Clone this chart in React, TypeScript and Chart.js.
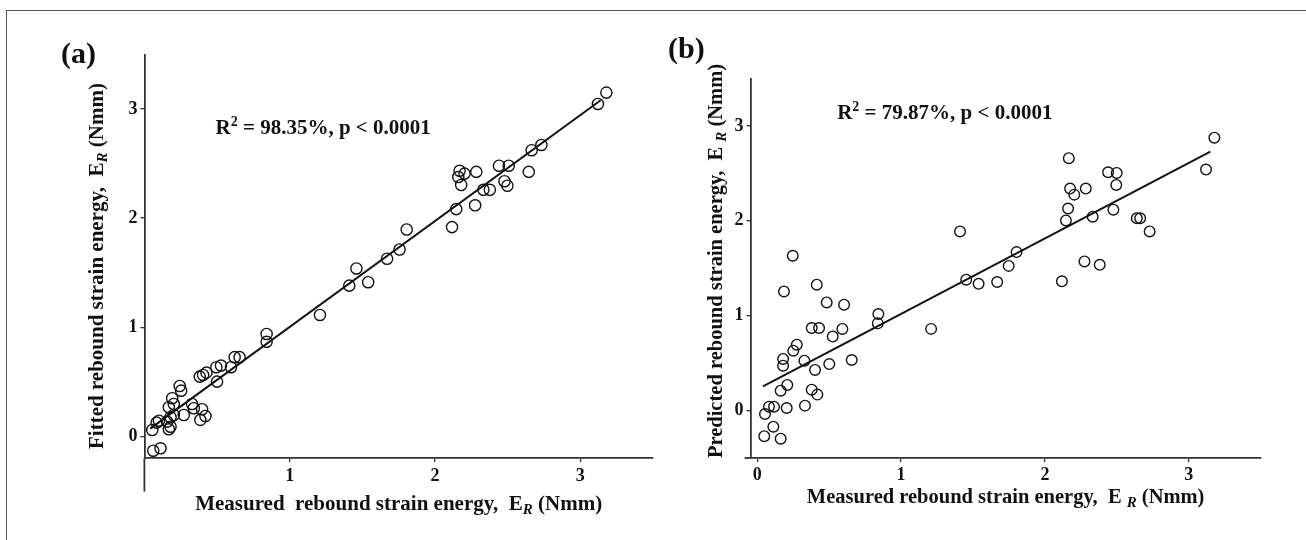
import React, { useEffect, useRef } from "react";
import { Chart, registerables } from "chart.js";

Chart.register(...registerables);

// ---------- data: panel (a) fitted vs measured ----------
const xA = [0.054, 0.061, 0.084, 0.100, 0.111, 0.157, 0.168, 0.168, 0.180, 0.180, 0.191, 0.202, 0.202, 0.243, 0.253, 0.271, 0.328, 0.340, 0.381, 0.385, 0.397, 0.404, 0.420, 0.427, 0.495, 0.500, 0.527, 0.596, 0.621, 0.655, 0.841, 0.841, 1.208, 1.410, 1.459, 1.540, 1.670, 1.756, 1.805, 2.117, 2.146, 2.160, 2.169, 2.180, 2.203, 2.276, 2.284, 2.333, 2.377, 2.440, 2.478, 2.498, 2.507, 2.645, 2.665, 2.732, 3.121, 3.179];
const yA = [0.058, -0.132, 0.125, 0.143, -0.110, 0.134, 0.266, 0.064, 0.174, 0.088, 0.349, 0.296, 0.195, 0.461, 0.418, 0.195, 0.296, 0.257, 0.547, 0.150, 0.248, 0.562, 0.186, 0.583, 0.633, 0.501, 0.648, 0.633, 0.725, 0.725, 0.938, 0.866, 1.112, 1.381, 1.538, 1.412, 1.627, 1.712, 1.895, 1.917, 2.082, 2.376, 2.433, 2.303, 2.407, 2.117, 2.423, 2.259, 2.259, 2.480, 2.338, 2.296, 2.480, 2.423, 2.622, 2.670, 3.046, 3.150];
const fitXA = [0.04, 3.14];
const fitYA = [0.07, 3.08];

// ---------- data: panel (b) predicted vs measured ----------
const xB = [0.049, 0.054, 0.082, 0.112, 0.117, 0.163, 0.163, 0.180, 0.180, 0.186, 0.205, 0.209, 0.247, 0.251, 0.275, 0.328, 0.332, 0.379, 0.379, 0.402, 0.414, 0.418, 0.430, 0.483, 0.501, 0.525, 0.592, 0.604, 0.657, 0.838, 0.842, 1.209, 1.410, 1.453, 1.539, 1.668, 1.748, 1.803, 2.118, 2.146, 2.161, 2.166, 2.175, 2.204, 2.275, 2.284, 2.332, 2.381, 2.439, 2.476, 2.496, 2.499, 2.639, 2.662, 2.728, 3.120, 3.178];
const yB = [-0.270, -0.036, 0.041, -0.170, 0.041, -0.296, 0.210, 0.544, 0.473, 1.256, 0.027, 0.270, 1.632, 0.631, 0.694, 0.526, 0.052, 0.870, 0.220, 0.428, 1.327, 0.168, 0.870, 1.140, 0.490, 0.780, 0.860, 1.116, 0.533, 0.919, 1.018, 0.861, 1.888, 1.380, 1.336, 1.355, 1.525, 1.670, 1.362, 2.004, 2.130, 2.660, 2.340, 2.276, 1.572, 2.340, 2.044, 1.536, 2.512, 2.117, 2.378, 2.505, 2.026, 2.026, 1.888, 2.540, 2.876];
const fitXB = [0.04, 3.15];
const fitYB = [0.255, 2.73];

// ---------- ticks ----------
const xTicksA = [1, 2, 3];
const yTicksA = [0, 1, 2, 3];
const xTicksB = [0, 1, 2, 3];
const yTicksB = [0, 1, 2, 3];

// ---------- texts ----------
const panelA = "(a)";
const panelB = "(b)";
const r2TextA = " = 98.35%, p < 0.0001";
const r2TextB = " = 79.87%, p < 0.0001";
const xTitleA = ["Measured  rebound strain energy,  E", "R", " (Nmm)"];
const xTitleB = ["Measured rebound strain energy,  E ", "R", " (Nmm)"];
const yTitleA = ["Fitted rebound strain energy,  E", "R", " (Nmm)"];
const yTitleB = ["Predicted rebound strain energy,  E ", "R", " (Nmm)"];

const FONT = "'Liberation Serif', 'Times New Roman', serif";
const INK = "#111111";
const AXIS = "#333333";

type Seg = { t: string; size: number; italic?: boolean; dy?: number };

function fontOf(size: number, italic?: boolean) {
  return `${italic ? "italic " : ""}bold ${size}px ${FONT}`;
}

function segsWidth(ctx: CanvasRenderingContext2D, segs: Seg[]) {
  let w = 0;
  for (const s of segs) {
    ctx.font = fontOf(s.size, s.italic);
    w += ctx.measureText(s.t).width;
  }
  return w;
}

function drawSegs(ctx: CanvasRenderingContext2D, segs: Seg[], x: number, y: number, align: "left" | "center") {
  const w = segsWidth(ctx, segs);
  let cx = align === "center" ? x - w / 2 : x;
  ctx.textAlign = "left";
  ctx.textBaseline = "alphabetic";
  for (const s of segs) {
    ctx.font = fontOf(s.size, s.italic);
    ctx.fillText(s.t, cx, y + (s.dy || 0));
    cx += ctx.measureText(s.t).width;
  }
}

function titleSegs(parts: string[], size: number): Seg[] {
  return [
    { t: parts[0], size },
    { t: parts[1], size: Math.round(size * 0.72), italic: true, dy: 4 },
    { t: parts[2], size },
  ];
}

const annotPlugin = {
  id: "annot",
  afterDraw(chart: any, _args: any, o: any) {
    const ctx: CanvasRenderingContext2D = chart.ctx;
    const ca = chart.chartArea;
    ctx.save();
    ctx.strokeStyle = AXIS;
    ctx.lineWidth = 1.8;
    if (o.yExtendTo) {
      ctx.beginPath();
      ctx.moveTo(ca.left, ca.bottom);
      ctx.lineTo(ca.left, o.yExtendTo);
      ctx.stroke();
    }
    if (o.xExtendLeft) {
      ctx.beginPath();
      ctx.moveTo(ca.left - o.xExtendLeft, ca.bottom);
      ctx.lineTo(ca.left, ca.bottom);
      ctx.stroke();
    }
    ctx.fillStyle = INK;
    drawSegs(ctx, [{ t: o.panel, size: 30 }], o.panelX, o.panelY, "left");
    drawSegs(
      ctx,
      [
        { t: "R", size: o.r2Size },
        { t: "2", size: 14, dy: -8 },
        { t: o.r2, size: o.r2Size },
      ],
      o.r2X,
      o.r2Y,
      "left"
    );
    drawSegs(ctx, titleSegs(o.xTitle, o.titleSize), (ca.left + ca.right) / 2, o.xTitleY, "center");
    ctx.translate(o.yTitleX, o.yTitleCY);
    ctx.rotate(-Math.PI / 2);
    drawSegs(ctx, titleSegs(o.yTitle, o.titleSize), 0, 0, "center");
    ctx.restore();
  },
};

type PanelParams = {
  xs: number[];
  ys: number[];
  fx: number[];
  fy: number[];
  xTicks: number[];
  yTicks: number[];
  xMin: number;
  xMax: number;
  yMin: number;
  yMax: number;
  yAxisWidth: number;
  xAxisHeight: number;
  padRight: number;
  padTop: number;
  pointR: number;
  annot: any;
};

function makeConfig(p: PanelParams): any {
  const tickFont = { family: FONT, size: 18, weight: "bold" as const };
  const grid = {
    display: true,
    drawOnChartArea: false,
    drawTicks: true,
    tickLength: 4,
    color: AXIS,
    lineWidth: 1.3,
  };
  const border = { display: true, color: AXIS, width: 1.8 };
  return {
    type: "scatter",
    data: {
      datasets: [
        {
          data: p.xs.map((x, i) => ({ x, y: p.ys[i] })),
          pointStyle: "circle",
          pointRadius: p.pointR,
          pointBorderWidth: 1.4,
          pointBorderColor: INK,
          pointBackgroundColor: "rgba(0,0,0,0)",
          showLine: false,
        },
        {
          data: p.fx.map((x, i) => ({ x, y: p.fy[i] })),
          showLine: true,
          borderColor: INK,
          borderWidth: 2,
          pointRadius: 0,
          fill: false,
        },
      ],
    },
    options: {
      animation: false,
      responsive: false,
      maintainAspectRatio: false,
      devicePixelRatio: 1,
      layout: { padding: { left: 0, right: p.padRight, top: p.padTop, bottom: 0 } },
      plugins: {
        legend: { display: false },
        tooltip: { enabled: false },
        annot: p.annot,
      },
      scales: {
        x: {
          type: "linear",
          min: p.xMin,
          max: p.xMax,
          afterBuildTicks: (s: any) => {
            s.ticks = p.xTicks.map((v) => ({ value: v }));
          },
          afterFit: (s: any) => {
            s.height = p.xAxisHeight;
          },
          grid,
          border,
          ticks: { font: tickFont, color: INK, padding: 3, maxRotation: 0 },
        },
        y: {
          type: "linear",
          min: p.yMin,
          max: p.yMax,
          afterBuildTicks: (s: any) => {
            s.ticks = p.yTicks.map((v) => ({ value: v }));
          },
          afterFit: (s: any) => {
            s.width = p.yAxisWidth;
          },
          grid,
          border,
          ticks: { font: tickFont, color: INK, padding: 3 },
        },
      },
    },
    plugins: [annotPlugin],
  };
}

const paramsA: PanelParams = {
  xs: xA,
  ys: yA,
  fx: fitXA,
  fy: fitYA,
  xTicks: xTicksA,
  yTicks: yTicksA,
  xMin: 0,
  xMax: 3.5,
  yMin: -0.2,
  yMax: 3.5,
  yAxisWidth: 144.4,
  xAxisHeight: 81.9,
  padRight: 5.1,
  padTop: 54.4,
  pointR: 5.6,
  annot: {
    panel: panelA,
    panelX: 61,
    panelY: 63,
    r2: r2TextA,
    r2Size: 21,
    r2X: 215.5,
    r2Y: 133.6,
    titleSize: 21,
    xTitle: xTitleA,
    xTitleY: 509.6,
    yTitle: yTitleA,
    yTitleX: 103,
    yTitleCY: 266,
    yExtendTo: 491.7,
    xExtendLeft: 0,
  },
};

const paramsB: PanelParams = {
  xs: xB,
  ys: yB,
  fx: fitXB,
  fy: fitYB,
  xTicks: xTicksB,
  yTicks: yTicksB,
  xMin: -0.046,
  xMax: 3.5,
  yMin: -0.5,
  yMax: 3.5,
  yAxisWidth: 90.6,
  xAxisHeight: 82,
  padRight: 45.3,
  padTop: 78.5,
  pointR: 5.3,
  annot: {
    panel: panelB,
    panelX: 8,
    panelY: 57.5,
    r2: r2TextB,
    r2Size: 21,
    r2X: 177.2,
    r2Y: 118.5,
    titleSize: 20.5,
    xTitle: xTitleB,
    xTitleY: 502.8,
    yTitle: yTitleB,
    yTitleX: 61.8,
    yTitleCY: 261,
    yExtendTo: 0,
    xExtendLeft: 6,
  },
};

function Panel({ params, left, width }: { params: PanelParams; left: number; width: number }) {
  const ref = useRef<HTMLCanvasElement>(null);
  useEffect(() => {
    const chart = new Chart(ref.current as HTMLCanvasElement, makeConfig(params));
    return () => chart.destroy();
  }, [params]);
  return (
    <canvas
      ref={ref}
      width={width}
      height={540}
      style={{ position: "absolute", left, top: 0, width, height: 540, display: "block" }}
    />
  );
}

export default function App() {
  return (
    <div
      style={{
        position: "fixed",
        left: 0,
        top: 0,
        width: 1306,
        height: 540,
        background: "#ffffff",
        overflow: "hidden",
      }}
    >
      <div
        style={{
          position: "absolute",
          left: 6,
          top: 10,
          width: 1400,
          height: 600,
          borderLeft: "1.5px solid #555",
          borderTop: "1.5px solid #555",
          boxSizing: "border-box",
        }}
      />
      <Panel params={paramsA} left={0} width={660} />
      <Panel params={paramsB} left={660} width={646} />
    </div>
  );
}
